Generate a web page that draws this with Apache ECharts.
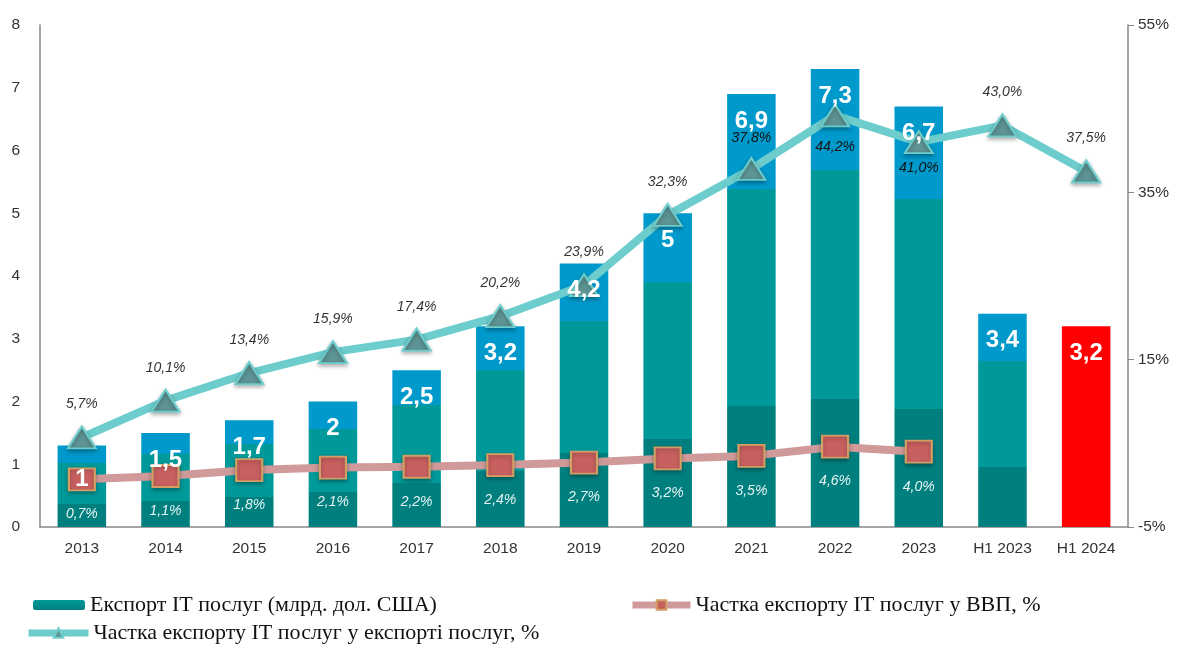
<!DOCTYPE html>
<html><head><meta charset="utf-8">
<script src="https://cdn.jsdelivr.net/npm/echarts@6/dist/echarts.min.js"></script>
<style>html,body{margin:0;padding:0;background:#fff}#c{width:1182px;height:647px}</style>
</head><body><div id="c"></div>
<script>
const categories = ['2013','2014','2015','2016','2017','2018','2019','2020','2021','2022','2023','H1 2023','H1 2024'];
const exportValues = [1.3, 1.5, 1.7, 2.0, 2.5, 3.2, 4.2, 5.0, 6.9, 7.3, 6.7, 3.4, 3.2];
const exportLabels = ['1','1,5','1,7','2','2,5','3,2','4,2','5','6,9','7,3','6,7','3,4','3,2'];
const shareServices = [5.7, 10.1, 13.4, 15.9, 17.4, 20.2, 23.9, 32.3, 37.8, 44.2, 41.0, 43.0, 37.5];
const shareGDP = [0.7, 1.1, 1.8, 2.1, 2.2, 2.4, 2.7, 3.2, 3.5, 4.6, 4.0];
const leftTicks = [0, 8, 1];
const rightTicks = [-5, 55, 20];

const fmt = v => v.toFixed(1).replace('.', ',') + '%';
const barGrad = new echarts.graphic.LinearGradient(0, 0, 0, 1, [
  {offset: 0, color: '#0099CC'}, {offset: 0.22, color: '#0099CC'},
  {offset: 0.22, color: '#009999'}, {offset: 0.72, color: '#009999'},
  {offset: 0.72, color: '#007F7F'}, {offset: 1, color: '#007F7F'}
]);
const legendGrad = new echarts.graphic.LinearGradient(0, 0, 0, 1, [
  {offset: 0, color: '#009999'}, {offset: 1, color: '#007F7F'}
]);

const chart = echarts.init(document.getElementById('c'));
const barData = exportValues.map((v, i) => ({
  value: v,
  itemStyle: {color: categories[i] === 'H1 2024' ? '#FF0000' : barGrad}
}));
const barLabelData = exportValues.map((v, i) => ({
  value: v,
  label: {formatter: exportLabels[i], distance: i === 0 ? 22 : 15}
}));
const svcData = shareServices.map((v, i) => {
  const d = {value: v};
  if (i === 8) d.label = {position: 'top', color: '#111', distance: 12};
  if (i === 9) d.label = {position: 'bottom', color: '#111', distance: 13};
  if (i === 10) d.label = {position: 'bottom', color: '#111', distance: 7};
  return d;
});
const legendText = {fontFamily: 'Liberation Serif', fontSize: 22, color: '#111'};

chart.setOption({
  animation: false,
  grid: {left: 40, right: 54, top: 25, bottom: 120},
  legend: [
    {left: 28, top: 589, itemWidth: 52, itemHeight: 10, itemGap: 8, textStyle: legendText,
     data: [{name: 'Експорт IT послуг (млрд. дол. США)', itemStyle: {color: legendGrad}}]},
    {left: 624, top: 589, itemWidth: 58, itemHeight: 12, itemGap: 8, textStyle: legendText,
     lineStyle: {width: 7},
     data: ['Частка експорту IT послуг у ВВП, %']},
    {left: 20, top: 617, itemWidth: 60, itemHeight: 12, itemGap: 8, textStyle: legendText,
     lineStyle: {width: 7},
     data: ['Частка експорту IT послуг у експорті послуг, %']}
  ],
  xAxis: {
    type: 'category', data: categories,
    axisLine: {lineStyle: {color: '#888', width: 1.5}},
    axisTick: {show: false},
    axisLabel: {color: '#333', fontFamily: 'Liberation Sans', fontSize: 15.5, margin: 14}
  },
  yAxis: [
    {type: 'value', min: leftTicks[0], max: leftTicks[1], interval: leftTicks[2],
     splitLine: {show: false},
     axisLine: {show: true, lineStyle: {color: '#888', width: 1.5}},
     axisTick: {show: false},
     axisLabel: {color: '#333', fontFamily: 'Liberation Sans', fontSize: 15.5, margin: 20}},
    {type: 'value', min: rightTicks[0], max: rightTicks[1], interval: rightTicks[2],
     position: 'right', splitLine: {show: false},
     axisLine: {show: true, lineStyle: {color: '#888', width: 1.5}},
     axisTick: {show: true, length: 6, lineStyle: {color: '#888'}},
     axisLabel: {color: '#333', fontFamily: 'Liberation Sans', fontSize: 15.5, margin: 10, formatter: '{value}%'}}
  ],
  series: [
    {name: 'Експорт IT послуг (млрд. дол. США)', type: 'bar', yAxisIndex: 0,
     barWidth: '58%', data: barData, z: 2},
    {name: 'Частка експорту IT послуг у ВВП, %', type: 'line', yAxisIndex: 1,
     data: shareGDP, symbol: 'rect', symbolSize: [26, 22],
     lineStyle: {color: '#D09A9A', width: 8},
     itemStyle: {color: '#C96060', borderColor: '#D2A064', borderWidth: 2,
                 shadowBlur: 4, shadowColor: 'rgba(0,0,0,0.3)', shadowOffsetY: 2},
     label: {show: true, position: 'bottom', distance: 16, color: '#E8F4F4',
             fontStyle: 'italic', fontFamily: 'Liberation Sans', fontSize: 14,
             formatter: p => fmt(p.value)},
     z: 4},
    {name: 'Частка експорту IT послуг у експорті послуг, %', type: 'line', yAxisIndex: 1,
     data: svcData, symbol: 'triangle', symbolSize: [28, 22],
     lineStyle: {color: '#6CCDCC', width: 8},
     itemStyle: {color: '#5E9494', borderColor: '#6CCDCC', borderWidth: 2,
                 shadowBlur: 4, shadowColor: 'rgba(0,0,0,0.3)', shadowOffsetY: 2},
     label: {show: true, position: 'top', distance: 14, color: '#333',
             fontStyle: 'italic', fontFamily: 'Liberation Sans', fontSize: 14,
             formatter: p => fmt(p.value)},
     z: 5},
    {name: 'bar-labels', type: 'bar', yAxisIndex: 0, barWidth: '58%', barGap: '-100%',
     data: barLabelData, itemStyle: {color: 'rgba(0,0,0,0)'}, silent: true,
     label: {show: true, position: 'insideTop', color: '#fff',
             fontFamily: 'Liberation Sans', fontWeight: 'bold', fontSize: 24},
     z: 10}
  ]
});
</script></body></html>
